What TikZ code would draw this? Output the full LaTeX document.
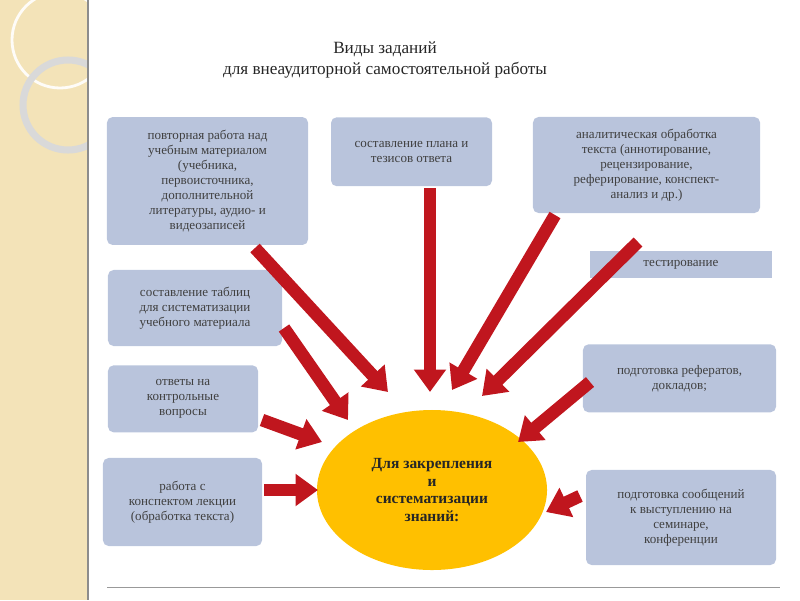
\documentclass[tikz,border=0pt]{standalone}
\usepackage{fontspec}
\setmainfont{Liberation Serif}
\usetikzlibrary{arrows.meta,shapes.geometric}
\definecolor{boxfill}{HTML}{B9C4DC}
\definecolor{arrowred}{HTML}{C0161E}
\definecolor{stripbg}{HTML}{F3E3B8}
\definecolor{ovalfill}{HTML}{FFC000}
\tikzset{
  task/.style={shape=rectangle, rounded corners=4pt, fill=boxfill, text=black!75,
    font=\fontsize{9.3pt}{10.6pt}\selectfont, align=center, inner sep=2pt},
  bigarrow/.style={draw=arrowred, line width=9pt,
    -{Triangle[length=16pt, width=22pt]}}
}
\begin{document}
\begin{tikzpicture}[x=0.025cm, y=-0.025cm]
\useasboundingbox (0,0) rectangle (800,600);
% background strip
\fill[stripbg] (0,0) rectangle (88,600);
\begin{scope}
\clip (0,0) rectangle (88,600);
\draw[white!90!stripbg, line width=2pt] (60,40) circle (48);
\draw[black!15, line width=5pt] (68,105) circle (45);
\end{scope}
\draw[black!45, line width=1pt] (88,0) -- (88,600);
\draw[black!40] (107,587) -- (780,587);
% title
\node[font=\fontsize{12.2pt}{15pt}\selectfont, align=center, text=black!85] (title) at (385,60)
  {Виды заданий\\для внеаудиторной самостоятельной работы};
% boxes
\node[task, minimum width=143pt, minimum height=91pt] (repeat) at (207.5,181) {повторная работа над\\учебным материалом\\(учебника,\\первоисточника,\\дополнительной\\литературы, аудио- и\\видеозаписей};
\node[task, minimum width=114.5pt, minimum height=49pt, anchor=north] (plan) at (411.5,117) {составление плана и\\тезисов ответа};
\node[task, minimum width=161.5pt, minimum height=68.3pt] (analysis) at (646.5,165) {аналитическая обработка\\текста (аннотирование,\\рецензирование,\\реферирование, конспект-\\анализ и др.)};
\node[task, minimum width=129.5pt, minimum height=19.2pt, rounded corners=0pt] (tests) at (681,264.5) {тестирование};
\node[task, minimum width=137.3pt, minimum height=48.4pt, anchor=north] (reports) at (679.5,344) {подготовка рефератов,\\докладов;};
\node[task, minimum width=135.1pt, minimum height=67.6pt] (talks) at (681,517.5) {подготовка сообщений\\к выступлению на\\семинаре,\\конференции};
\node[task, minimum width=113.1pt, minimum height=62.6pt] (notes) at (182.5,502) {работа с\\конспектом лекции\\(обработка текста)};
\node[task, minimum width=106.7pt, minimum height=47.7pt, anchor=north] (answers) at (183,365) {ответы на\\контрольные\\вопросы};
\node[task, minimum width=123.8pt, minimum height=54.1pt] (tables) at (195,308) {составление таблиц\\для систематизации\\учебного материала};
% centre
\node[shape=ellipse, fill=ovalfill, minimum width=163.6pt, minimum height=113.8pt, align=center,
  font=\bfseries\fontsize{11pt}{12.5pt}\selectfont, text=black!85] (goal) at (432,490)
  {Для закрепления\\и\\систематизации\\знаний:};
% arrows
\draw[bigarrow] (255,248) -- (388,392);
\draw[bigarrow] (430,188) -- (430,392);
\draw[bigarrow] (555,215) -- (452,390);
\draw[bigarrow] (638,242) -- (482,396);
\draw[bigarrow] (590,382) -- (518,442);
\draw[bigarrow] (580,496) -- (546,512);
\draw[bigarrow] (264,490) -- (318,490);
\draw[bigarrow] (262,420) -- (322,442);
\draw[bigarrow] (284,328) -- (348,420);
\end{tikzpicture}
\end{document}
